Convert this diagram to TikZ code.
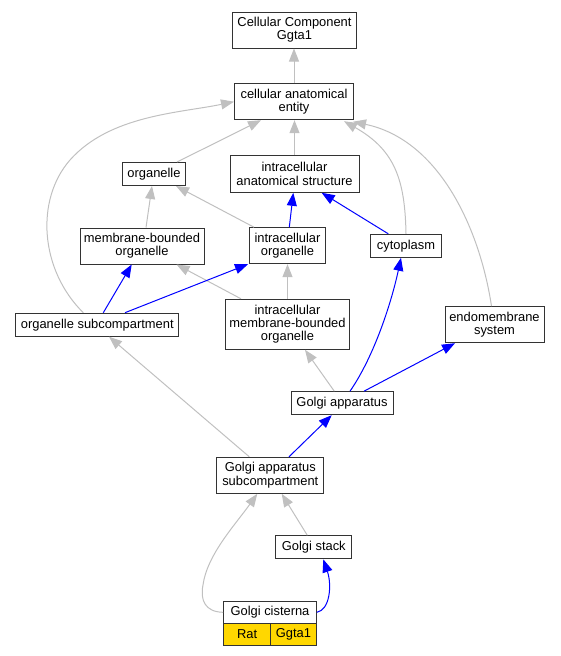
\documentclass[tikz,border=0pt]{standalone}
\usepackage{fontspec}
\setmainfont{Liberation Sans}
\usetikzlibrary{arrows.meta,calc}
\definecolor{edgegray}{HTML}{C0C0C0}
\definecolor{edgeblue}{HTML}{0000FF}
\definecolor{gold}{HTML}{FFD700}
\definecolor{boxline}{HTML}{333333}
\newcommand{\nodefont}{\fontsize{12.9}{13.3}\selectfont}
\tikzset{
  box/.style={draw=boxline, line width=1pt, fill=white, inner sep=0pt, align=center, font=\nodefont},
  gedge/.style={draw=edgegray, line width=1pt, -{Triangle[length=13pt,width=10pt]}, edgegray},
  bedge/.style={draw=edgeblue, line width=1pt, -{Triangle[length=13pt,width=10pt]}, edgeblue}
}
\begin{document}
\begin{tikzpicture}[x=1pt,y=-1pt]
\useasboundingbox (0,0) rectangle (560,656);
% nodes
\node[box, minimum width=124pt, minimum height=36pt] (ccg) at (294.5,30) {Cellular Component\\Ggta1};
\node[box, minimum width=119pt, minimum height=36pt] (cae) at (294,101.7) {cellular anatomical\\entity};
\node[box, minimum width=63pt, minimum height=23pt] (org) at (154,174) {organelle};
\node[box, minimum width=129pt, minimum height=37pt] (ias) at (294.5,173.8) {intracellular\\anatomical structure};
\node[box, minimum width=124pt, minimum height=36pt] (mbo) at (142,246) {membrane-bounded\\organelle};
\node[box, minimum width=76pt, minimum height=36pt] (io) at (287.5,245.7) {intracellular\\organelle};
\node[box, minimum width=71pt, minimum height=23pt] (cyt) at (406,245.8) {cytoplasm};
\node[box, minimum width=163pt, minimum height=23pt] (osc) at (97.3,324.7) {organelle subcompartment};
\node[box, minimum width=124pt, minimum height=50pt] (imbo) at (287.5,324.3) {intracellular\\membrane-bounded\\organelle};
\node[box, minimum width=99pt, minimum height=36pt] (endo) at (494.5,324.7) {endomembrane\\system};
\node[box, minimum width=102pt, minimum height=23pt] (ga) at (342,403.2) {Golgi apparatus};
\node[box, minimum width=107pt, minimum height=36pt] (gas) at (270.3,475.3) {Golgi apparatus\\subcompartment};
\node[box, minimum width=76pt, minimum height=23pt] (gs) at (313.8,547.3) {Golgi stack};
\node[box, minimum width=92.6pt, minimum height=22pt] (gc) at (270,612.3) {Golgi cisterna};
\node[box, fill=gold, minimum width=47pt, minimum height=22pt] (rat) at (247.2,634.3) {Rat};
\node[box, fill=gold, minimum width=45.6pt, minimum height=22pt] (ggta) at (293.5,634.3) {Ggta1};
% gray edges
\draw[gedge] (cae.north) -- (cae.north |- ccg.south);
\draw[gedge] ($(org.north east)+(-9,0)$) -- ($(cae.south)+(-33,0)$);
\draw[gedge] (ias.north) -- (ias.north |- cae.south);
\draw[gedge] ($(osc.north)+(-14,0)$) .. controls (40,270) and (35,200) .. (70,160) .. controls (110,115) and (180,113) .. (cae.west);
\draw[gedge] (cyt.north) .. controls (405,180) and (395,150) .. ($(cae.south east)+(-10,1)$);
\draw[gedge] ($(endo.north)+(-3,0)$) .. controls (480,230) and (440,140) .. ($(cae.south east)+(-1,1.5)$);
\draw[gedge] ($(mbo.north)+(4,0)$) -- ($(org.south)+(-2,0)$);
\draw[gedge] ($(io.north west)+(5,0)$) -- ($(org.south east)+(-10,0)$);
\draw[gedge] (imbo.north) -- (imbo.north |- io.south);
\draw[gedge] ($(imbo.north west)+(16,0)$) -- ($(mbo.south east)+(-28,0)$);
\draw[gedge] ($(ga.north)+(-7.7,0)$) -- ($(imbo.south)+(17.5,0)$);
\draw[gedge] ($(gas.north)+(-21,0)$) -- ($(osc.south)+(11.7,0)$);
\draw[gedge] ($(gs.north)+(-6.5,0)$) -- ($(gas.south)+(11.4,0)$);
\draw[gedge] (gc.west) .. controls (205,612) and (200,600) .. (203,585) .. controls (207,555) and (235,525) .. ($(gas.south)+(-13,0)$);
% blue edges
\draw[bedge] ($(io.north)+(1.8,0)$) -- ($(ias.south)+(-1.2,0)$);
\draw[bedge] ($(cyt.north)+(-17.7,0)$) -- ($(ias.south)+(27.2,0)$);
\draw[bedge] ($(osc.north)+(6,0)$) -- ($(mbo.south)+(-10.3,0)$);
\draw[bedge] ($(osc.north)+(27.7,0)$) -- ($(io.south west)+(-1,0)$);
\draw[bedge] ($(ga.north)+(8,0)$) .. controls (375,355) and (392,300) .. ($(cyt.south)+(-5,0)$);
\draw[bedge] ($(ga.north)+(22,0)$) -- ($(endo.south)+(-39.5,0)$);
\draw[bedge] ($(gas.north)+(18.7,0)$) -- ($(ga.south)+(-10.3,0)$);
\draw[bedge] (gc.east) .. controls (330,610) and (332,585) .. ($(gs.south)+(9.5,0)$);
\end{tikzpicture}
\end{document}
